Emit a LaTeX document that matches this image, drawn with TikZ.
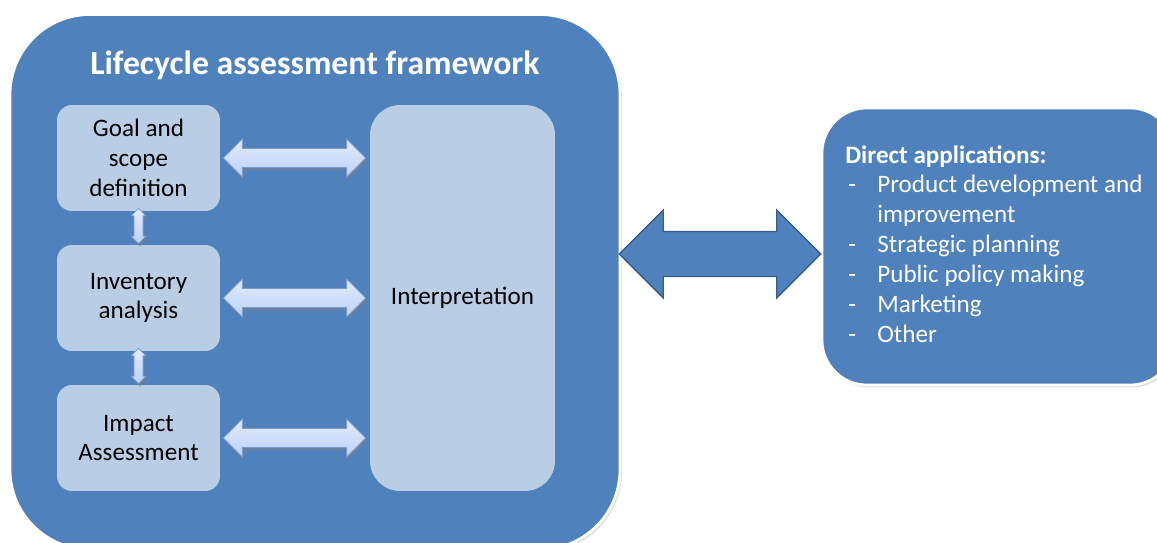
\documentclass[tikz,border=0pt]{standalone}
\usepackage{fontspec}
\setmainfont{Carlito}
\usepackage{tikz}
\usetikzlibrary{positioning, calc, shadows}

\definecolor{frameblue}{HTML}{4F81BD}
\definecolor{boxblue}{HTML}{B9CDE5}
\definecolor{arrowtop}{HTML}{E2ECFF}
\definecolor{arrowbot}{HTML}{BCD1F6}
\definecolor{arrowline}{HTML}{7B9BD2}
\definecolor{edgeblue}{HTML}{385D8A}

% horizontal block arrow: style, from, to, head half, shaft half
\newcommand{\harrow}[5]{%
    \path[#1] let \p1 = (#2), \p2 = (#3) in
        (\x1,\y1) -- ++(#4,#4) -- ++(0,-#4+#5) -- (\x2-#4,\y1+#5) -- ++(0,#4-#5)
        -- (\x2,\y1) -- ++(-#4,-#4) -- ++(0,#4-#5) -- (\x1+#4,\y1-#5) -- ++(0,-#4+#5) -- cycle;
}
% vertical block arrow: style, from, to, head half, shaft half
\newcommand{\varrow}[5]{%
    \path[#1] let \p1 = (#2), \p2 = (#3) in
        (\x1,\y1) -- ++(#4,-#4) -- ++(-#4+#5,0) -- (\x1+#5,\y2+#4) -- ++(#4-#5,0)
        -- (\x1,\y2) -- ++(-#4,#4) -- ++(#4-#5,0) -- (\x1-#5,\y1-#4) -- ++(-#4+#5,0) -- cycle;
}

\tikzset{
    frame/.style={draw=white, line width=1.5pt, fill=frameblue,
        drop shadow={shadow xshift=0.04cm, shadow yshift=-0.05cm, opacity=0.25}},
    stepbox/.style={fill=boxblue, rounded corners=0.3cm, align=center,
        minimum width=3.26cm, minimum height=2.12cm, inner sep=0pt},
    lightarrow/.style={draw=arrowline, line width=0.4pt, top color=arrowtop, bottom color=arrowbot,
        drop shadow={shadow xshift=0.03cm, shadow yshift=-0.06cm, opacity=0.45}},
    bigarrow/.style={draw=edgeblue, line width=0.8pt, fill=frameblue}
}

\begin{document}
\begin{tikzpicture}[x=0.02cm, y=-0.02cm, font=\fontsize{14.3}{17}\selectfont]
    \useasboundingbox (0,0) rectangle (1157,542);

    % framework
    \node[frame, rounded corners=1.6cm, minimum width=12.2cm, minimum height=10.7cm] (frame) at (315,282) {};
    \node[text=white, font=\fontsize{19.2}{22}\selectfont\bfseries] (title) at (315,65) {Lifecycle assessment framework};

    % steps
    \node[stepbox] (goal) at (138.5,158) {Goal and\\scope\\definition};
    \node[stepbox] (inv) at (138.5,298) {Inventory\\analysis};
    \node[stepbox] (impact) at (138.5,438) {Impact\\Assessment};
    \node[fill=boxblue, rounded corners=0.6cm, minimum width=3.7cm, minimum height=7.72cm] (interp) at (462.5,298) {Interpretation};

    % applications
    \node[frame, rounded corners=0.9cm, minimum width=7.06cm, minimum height=5.54cm] (apps) at (998.5,246.5) {};
    \node[text=white, align=left, anchor=north west, inner sep=0pt] (applist) at (845,145) {%
        \textbf{Direct applications:}\\
        \makebox[0.64cm][l]{\hspace{0.06cm}-}Product development and\\
        \hspace*{0.64cm}improvement\\
        \makebox[0.64cm][l]{\hspace{0.06cm}-}Strategic planning\\
        \makebox[0.64cm][l]{\hspace{0.06cm}-}Public policy making\\
        \makebox[0.64cm][l]{\hspace{0.06cm}-}Marketing\\
        \makebox[0.64cm][l]{\hspace{0.06cm}-}Other};

    % arrows
    \foreach \step in {goal, inv, impact}
    {
        \harrow{lightarrow}{[xshift=0.06cm]\step.east}{[xshift=-0.08cm]\step.east -| interp.west}{0.38cm}{0.19cm}
    }
    \varrow{lightarrow}{[yshift=0.06cm]goal.south}{[yshift=0.02cm]inv.north}{0.15cm}{0.09cm}
    \varrow{lightarrow}{[yshift=0.06cm]inv.south}{[yshift=0.02cm]impact.north}{0.15cm}{0.09cm}

    \harrow{bigarrow}{[yshift=-0.15cm, xshift=-0.04cm]apps.west -| frame.east}{[yshift=-0.15cm]apps.west}{0.88cm}{0.45cm}
\end{tikzpicture}
\end{document}
